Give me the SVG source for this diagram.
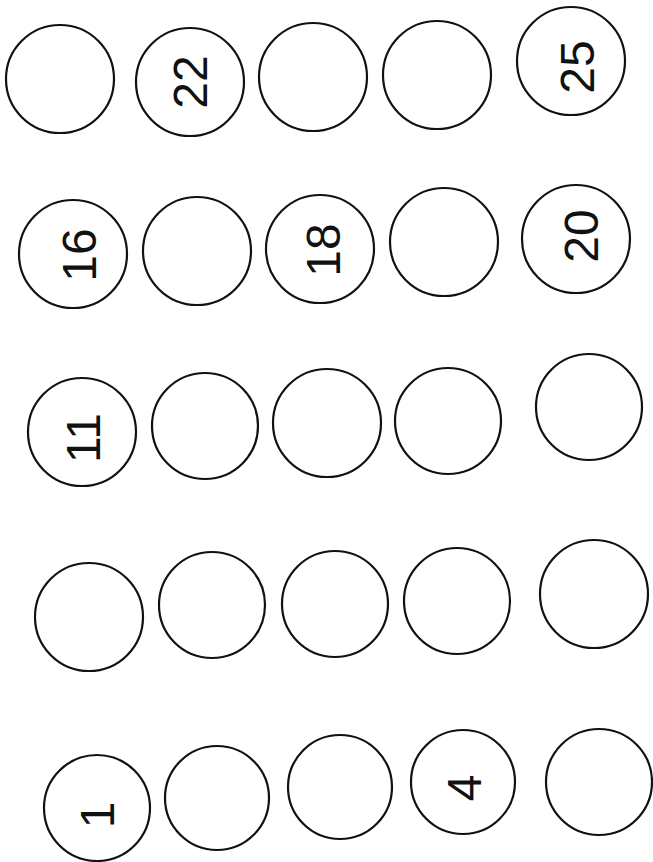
<svg xmlns="http://www.w3.org/2000/svg" width="653" height="862" viewBox="0 0 653 862">
<style>
.c{fill:none;stroke:#111;stroke-width:2.2}
.t{font-family:"Liberation Sans","DejaVu Sans",sans-serif;font-size:48px;fill:#111;text-anchor:middle;dominant-baseline:central}
</style>
<rect width="653" height="862" fill="#fff"/>
<g id="n21"><circle class="c" cx="60" cy="79" r="54"/></g>
<g id="n22"><circle class="c" cx="190" cy="82" r="54"/><text class="t" transform="translate(190,82) rotate(-90)">22</text></g>
<g id="n23"><circle class="c" cx="313" cy="77" r="54"/></g>
<g id="n24"><circle class="c" cx="437" cy="75" r="54"/></g>
<g id="n25"><circle class="c" cx="571" cy="61" r="54"/><text class="t" transform="translate(577,67) rotate(-90)">25</text></g>
<g id="n16"><circle class="c" cx="73" cy="254" r="54"/><text class="t" transform="translate(79,255) rotate(-90)">16</text></g>
<g id="n17"><circle class="c" cx="197" cy="251" r="54"/></g>
<g id="n18"><circle class="c" cx="320" cy="249" r="54"/><text class="t" transform="translate(323,250) rotate(-90)">18</text></g>
<g id="n19"><circle class="c" cx="444" cy="242" r="54"/></g>
<g id="n20"><circle class="c" cx="576" cy="239" r="54"/><text class="t" transform="translate(581,236) rotate(-90)">20</text></g>
<g id="n11"><circle class="c" cx="82" cy="432" r="54"/><text class="t" transform="translate(83,438) rotate(-90)">11</text></g>
<g id="n12"><circle class="c" cx="205" cy="426" r="53"/></g>
<g id="n13"><circle class="c" cx="327" cy="423" r="54"/></g>
<g id="n14"><circle class="c" cx="448" cy="421" r="53"/></g>
<g id="n15"><circle class="c" cx="589" cy="407" r="53"/></g>
<g id="n6"><circle class="c" cx="89" cy="617" r="54"/></g>
<g id="n7"><circle class="c" cx="212" cy="605" r="53"/></g>
<g id="n8"><circle class="c" cx="335" cy="604" r="53"/></g>
<g id="n9"><circle class="c" cx="457" cy="601" r="53"/></g>
<g id="n10"><circle class="c" cx="594" cy="594" r="54"/></g>
<g id="n1"><circle class="c" cx="97" cy="808" r="53"/><text class="t" transform="translate(97,815) rotate(-90)">1</text></g>
<g id="n2"><circle class="c" cx="217" cy="798" r="52"/></g>
<g id="n3"><circle class="c" cx="340" cy="787" r="52"/></g>
<g id="n4"><circle class="c" cx="463" cy="782" r="52"/><text class="t" transform="translate(464,788) rotate(-90)">4</text></g>
<g id="n5"><circle class="c" cx="599" cy="782" r="53"/></g>
<g id="connectors"></g>
</svg>
